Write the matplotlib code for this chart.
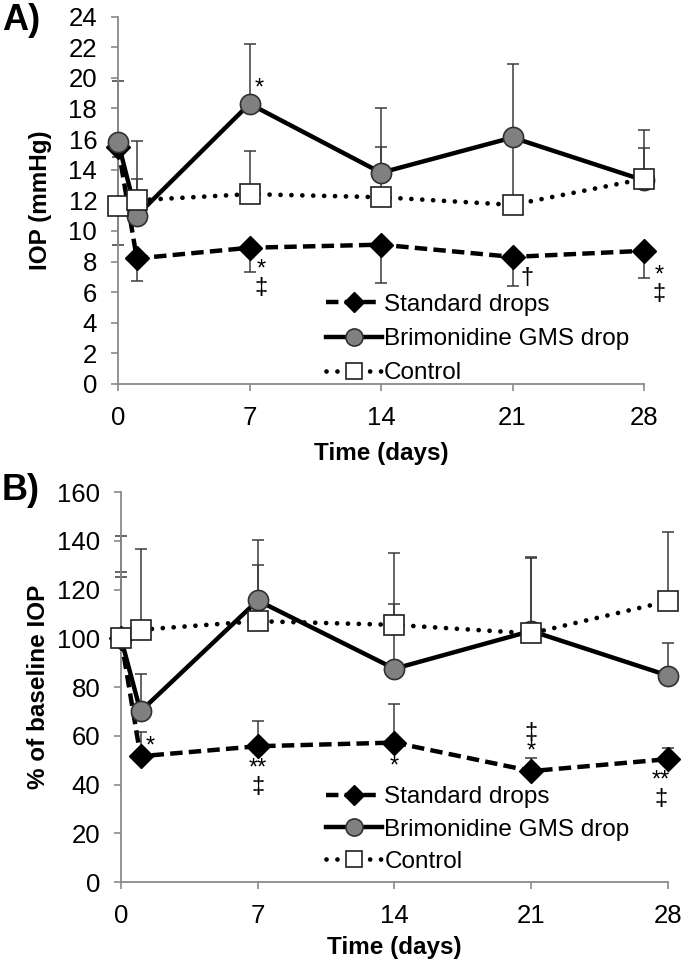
import numpy as np
import matplotlib.pyplot as plt

plt.rcParams['font.family'] = ['Liberation Sans', 'DejaVu Sans']

days = [0, 1, 7, 14, 21, 28]

# panel A: IOP (mmHg)
std_a = [15.5, 8.2, 8.9, 9.1, 8.3, 8.7]
std_a_lo = [6.4, 1.5, 1.6, 2.5, 1.9, 1.8]
gms_a = [15.8, 11.0, 18.3, 13.8, 16.1, 13.3]
gms_a_hi = [4.0, 4.9, 3.9, 4.2, 4.8, 3.3]
ctl_a = [11.6, 12.0, 12.4, 12.2, 11.7, 13.4]
ctl_a_hi = [3.2, 1.4, 2.8, 3.3, 4.0, 2.0]

# panel B: % of baseline IOP
std_b = [100, 51.6, 55.7, 57.2, 45.5, 50.4]
std_b_hi = [25, 9.9, 10.3, 16, 5.3, 4.6]
gms_b = [100, 70, 115.5, 87.5, 103, 84.7]
gms_b_hi = [27, 15.2, 25, 26.5, 30, 13.3]
ctl_b = [100, 103.5, 107, 105.5, 102, 115.2]
ctl_b_hi = [42, 33, 23, 29.5, 31.5, 28.3]

labels = ['Standard drops', 'Brimonidine GMS drop', 'Control']

# significance marks: (day, value, text)
marks_a = [(7.5, 19.3, '*'), (7.6, 6.9, '*\n‡'),
           (21.75, 6.95, '†'), (28.8, 6.5, '*\n‡')]
marks_b = [(1.5, 55.5, '*'), (7.0, 42.8, '**\n‡'), (14.0, 47.5, '*'),
           (21.0, 57.3, '‡\n*'), (27.65, 37.8, '**\n‡')]

fig = plt.figure(figsize=(6.85, 9.67), dpi=100)
axA = fig.add_axes([0.1723, 0.6029, 0.7679, 0.380])
axB = fig.add_axes([0.1766, 0.0879, 0.7985, 0.4033])

ebkw = dict(fmt='none', ecolor='#3a3a3a', elinewidth=1.1, capsize=4.3, capthick=1.1)


def draw(ax, std, std_err, gms, gms_err, ctl, ctl_err):
    z = np.zeros(len(days))
    for vals, err in [(std, std_err), (gms, [z, gms_err]), (ctl, [z, ctl_err])]:
        eb = ax.errorbar(days, vals, yerr=err, zorder=2, **ebkw)
        for art in eb.get_children():
            art.set_clip_on(False)
    ax.plot(days, std, color='black', lw=3.2, dashes=(2.8, 1.4), marker='D', ms=12,
            mfc='black', mec='black', zorder=3, label=labels[0], clip_on=False)
    ax.plot(days, gms, color='black', lw=3.2, marker='o', ms=14.5, mfc='#808080',
            mec='#303030', mew=1.2, zorder=4, label=labels[1], clip_on=False)
    ax.plot(days, ctl, color='black', lw=3.4, linestyle=(0, (0.01, 2.3)),
            dash_capstyle='round', marker='s', ms=14, mfc='white', mec='#202020',
            mew=1.2, zorder=5, label=labels[2], clip_on=False)
    for s in ['top', 'right']:
        ax.spines[s].set_visible(False)
    for s in ['left', 'bottom']:
        ax.spines[s].set_color('#8a8a8a')
        ax.spines[s].set_linewidth(1.3)
    ax.set_xlim(0, 28)
    ax.set_xticks([0, 7, 14, 21, 28])
    ax.tick_params(axis='both', colors='#8a8a8a', labelcolor='black', labelsize=18.5,
                   length=5, width=1.2, direction='out')
    ax.tick_params(axis='x', pad=11)
    ax.tick_params(axis='y', pad=10)
    ax.set_xlabel('Time (days)', fontsize=17.5, fontweight='bold')
    ax.patch.set_visible(False)


def put_marks(ax, marks):
    for x, y, t in marks:
        ax.text(x, y, t, fontsize=17, ha='center', va='center', linespacing=0.8)


draw(axA, std_a, [std_a_lo, np.zeros(6)], gms_a, gms_a_hi, ctl_a, ctl_a_hi)
axA.set_ylim(0, 24)
axA.set_yticks(range(0, 25, 2))
axA.set_ylabel('IOP (mmHg)', fontsize=17.5, fontweight='bold')
axA.yaxis.set_label_coords(-0.125, 0.5)
axA.xaxis.set_label_coords(0.5, -0.158)
put_marks(axA, marks_a)
axA.legend(loc='upper left', bbox_to_anchor=(0.395, 0.245), frameon=False,
           fontsize=17.5, handlelength=2.3, handletextpad=0.1, labelspacing=0.5,
           borderpad=0, borderaxespad=0, markerscale=0.85)

draw(axB, std_b, [np.zeros(6), std_b_hi], gms_b, gms_b_hi, ctl_b, ctl_b_hi)
axB.set_ylim(0, 160)
axB.set_yticks(range(0, 161, 20))
axB.set_ylabel('% of baseline IOP', fontsize=17.5, fontweight='bold')
axB.yaxis.set_label_coords(-0.13, 0.5)
axB.xaxis.set_label_coords(0.5, -0.138)
put_marks(axB, marks_b)
axB.legend(loc='upper left', bbox_to_anchor=(0.375, 0.245), frameon=False,
           fontsize=17.5, handlelength=2.3, handletextpad=0.1, labelspacing=0.42,
           borderpad=0, borderaxespad=0, markerscale=0.85)

fig.text(0.003, 0.979, 'A)', fontsize=26, fontweight='bold', va='center')
fig.text(0.003, 0.493, 'B)', fontsize=26, fontweight='bold', va='center')

fig.savefig('out.png', dpi=100)
